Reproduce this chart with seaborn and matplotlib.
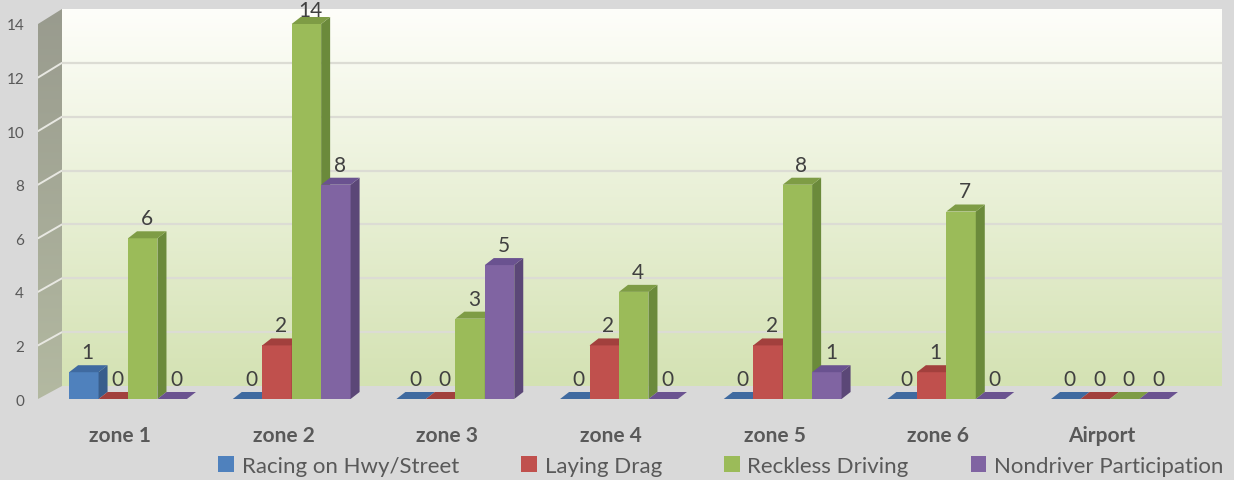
import numpy as np
import pandas as pd
import matplotlib
matplotlib.use("Agg")
import matplotlib.pyplot as plt
import seaborn as sns
from matplotlib.patches import Polygon, Patch
from matplotlib.transforms import IdentityTransform
from matplotlib.colors import to_rgb

# --- data ---
zones = ["zone 1", "zone 2", "zone 3", "zone 4", "zone 5", "zone 6", "Airport"]
series = ["Racing on Hwy/Street", "Laying Drag", "Reckless Driving", "Nondriver Participation"]
racing = [1, 0, 0, 0, 0, 0, 0]
laying_drag = [0, 2, 0, 2, 2, 1, 0]
reckless = [6, 14, 3, 4, 8, 7, 0]
nondriver = [0, 8, 5, 0, 1, 0, 0]
yticks = [0, 2, 4, 6, 8, 10, 12, 14]

front_cols = ["#4f81bd", "#c0504d", "#9bbb59", "#8064a2"]
side_cols = ["#395e8c", "#8e3a37", "#6b8a3b", "#5b4777"]
top_cols = ["#3f6aa0", "#a2403d", "#7e9c45", "#6a5290"]

df = pd.DataFrame({
    "zone": zones * 4,
    "series": np.repeat(series, len(zones)),
    "count": racing + laying_drag + reckless + nondriver,
})

sns.set_theme(style="white")
plt.rcParams["font.family"] = ["Lato", "DejaVu Sans"]

W, H = 1234, 481
fig = plt.figure(figsize=(W / 100, H / 100), dpi=100, facecolor="#d9d9d9")


def frac(x0, y0, x1, y1):
    # pixel box, origin top-left -> figure fraction rect
    return [x0 / W, 1 - y1 / H, (x1 - x0) / W, (y1 - y0) / H]


def gradient(c_top, c_bot, n=256):
    t = np.linspace(0, 1, n)[:, None, None]
    return np.array(to_rgb(c_top)) * (1 - t) + np.array(to_rgb(c_bot)) * t


# back wall
wall = fig.add_axes(frac(62, 10, 1222, 387), zorder=0)
wall.imshow(gradient("#fefefa", "#d4e2b3"), aspect="auto", extent=(0, 1, 0, 14), origin="upper")
wall.hlines(yticks[1:-1], 0, 1, color="#dcdcd4", lw=1.6)
wall.set_xlim(0, 1)
wall.set_ylim(0, 14)
wall.axis("off")

# left side wall
FX0, FX1, FB, FT = 38, 1200, 400, 25
BX0, BB, BT = 62, 387, 10


def fy(v):
    return FB - v * (FB - FT) / 14


def by(v):
    return BB - v * (BB - BT) / 14


side = fig.add_axes(frac(FX0, BT, BX0, FB), zorder=0)
side.set_xlim(FX0, BX0)
side.set_ylim(FB, BT)
im = side.imshow(gradient("#999b8e", "#b3b9a1"), aspect="auto", extent=(FX0, BX0, FB, BT))
clip = Polygon([(FX0, fy(0)), (BX0, by(0)), (BX0, by(14)), (FX0, fy(14))], closed=True,
               transform=side.transData, fc="none", ec="none")
side.add_patch(clip)
im.set_clip_path(clip)
for v in yticks[1:-1]:
    side.plot([FX0, BX0], [fy(v), by(v)], color="#e8e8e2", lw=1.4)
side.axis("off")

# front plane with bars
ax = fig.add_axes(frac(FX0, FT, FX1, FB), zorder=2)
sns.barplot(data=df, x="zone", y="count", hue="series", palette=front_cols,
            saturation=1, width=0.72, errorbar=None, legend=False, linewidth=0, ax=ax)
ax.set_xlim(-0.55, len(zones) - 0.45)
ax.set_ylim(0, 14)
ax.patch.set_alpha(0)
for s in ax.spines.values():
    s.set_visible(False)
ax.set_xlabel("")
ax.set_ylabel("")
ax.set_xticks([])
ax.set_yticks(yticks)
ax.tick_params(axis="y", length=0, pad=10, labelsize=11, labelcolor="#595959")

# fake 3D faces for every bar
dx, dy = 9, 7
for i, cont in enumerate(ax.containers):
    for bar in cont:
        x0 = bar.get_x()
        w = bar.get_width()
        h = bar.get_height()
        (px0, py0), (px1, py1) = ax.transData.transform([(x0, 0), (x0 + w, h)])
        z = 3 + 0.1 * (x0 + 1)
        bar.set_zorder(z)
        ax.add_patch(Polygon([(px1, py0), (px1 + dx, py0 + dy), (px1 + dx, py1 + dy), (px1, py1)],
                             closed=True, transform=IdentityTransform(), fc=side_cols[i],
                             ec="none", zorder=z, clip_on=False))
        ax.add_patch(Polygon([(px0, py1), (px1, py1), (px1 + dx, py1 + dy), (px0 + dx, py1 + dy)],
                             closed=True, transform=IdentityTransform(), fc=top_cols[i],
                             ec="none", zorder=z, clip_on=False))
        ty = min(py1 + 20, H - 11)
        ax.text((px0 + px1) / 2 + 4, ty, f"{int(h)}", transform=IdentityTransform(),
                ha="center", va="center", fontsize=15, color="#404040", zorder=10)

# category labels
for j, name in enumerate(zones):
    ax.annotate(name, (j, 0), xytext=(-8, -36), textcoords="offset pixels",
                ha="center", va="center", fontsize=15, fontweight="bold",
                color="#595959", annotation_clip=False)

handles = [Patch(fc=c, ec="none", label=s) for c, s in zip(front_cols, series)]
fig.legend(handles=handles, loc="center", bbox_to_anchor=(721 / W, 1 - 467 / H), ncol=4,
           frameon=False, fontsize=16, handlelength=0.7, handleheight=0.7,
           handletextpad=0.35, columnspacing=2.8, labelcolor="#595959")

fig.savefig("out.png", dpi=100, facecolor=fig.get_facecolor())
